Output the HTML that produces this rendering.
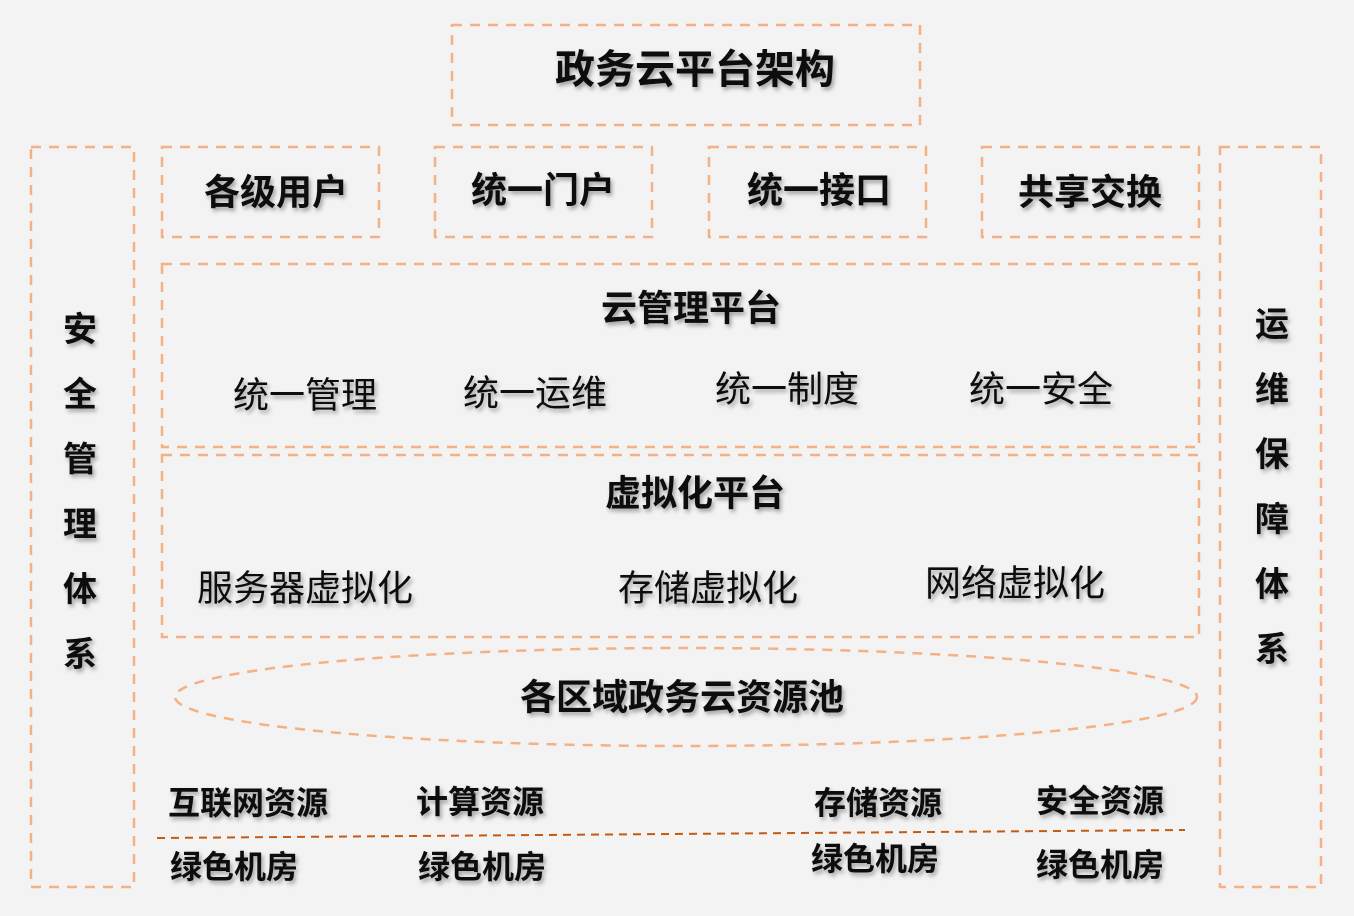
<!DOCTYPE html>
<html><head><meta charset="utf-8"><style>
html,body{margin:0;padding:0;background:#f3f3f3;}
svg{display:block;}
text{font-family:"Liberation Sans","Noto Sans CJK SC",sans-serif;fill:#111;}
.b{font-weight:bold;}
</style></head><body>
<svg width="1354" height="916" viewBox="0 0 1354 916" xmlns="http://www.w3.org/2000/svg">
<defs>
<filter id="sh" x="-10%" y="-20%" width="130%" height="150%">
<feDropShadow dx="2" dy="3" stdDeviation="2" flood-color="#000" flood-opacity="0.35"/>
</filter>
</defs>
<rect width="1354" height="916" fill="#f3f3f3"/>
<g fill="none" stroke="#f4b183" stroke-width="2.5" stroke-dasharray="10 8">
<rect x="452" y="25" width="468" height="100"/>
<rect x="31" y="147" width="103" height="740"/>
<rect x="1220" y="147" width="101" height="740"/>
<rect x="162" y="147" width="217" height="90"/>
<rect x="435" y="147" width="217" height="90"/>
<rect x="709" y="147" width="217" height="90"/>
<rect x="982" y="147" width="217" height="90"/>
<rect x="162" y="264" width="1037" height="183"/>
<rect x="162" y="455" width="1037" height="182"/>
<ellipse cx="686" cy="697" rx="511" ry="49"/>
</g>
<line x1="157" y1="838" x2="1185" y2="830" stroke="#c55a11" stroke-width="2" stroke-dasharray="8 6"/>
<g filter="url(#sh)" text-anchor="middle" dominant-baseline="central">
<text class="b" x="695" y="70" font-size="40">政务云平台架构</text>
<g class="b" font-size="34">
<text x="80" y="330">安</text><text x="80" y="395">全</text><text x="80" y="460">管</text>
<text x="80" y="525">理</text><text x="80" y="590">体</text><text x="80" y="655">系</text>
<text x="1272" y="325">运</text><text x="1272" y="390">维</text><text x="1272" y="455">保</text>
<text x="1272" y="520">障</text><text x="1272" y="585">体</text><text x="1272" y="650">系</text>
</g>
<g class="b" font-size="36">
<text x="276" y="192">各级用户</text>
<text x="543" y="190">统一门户</text>
<text x="819" y="190">统一接口</text>
<text x="1090" y="192">共享交换</text>
<text x="691" y="308">云管理平台</text>
<text x="695" y="493">虚拟化平台</text>
<text x="682" y="697">各区域政务云资源池</text>
</g>
<g font-size="36">
<text x="305" y="395">统一管理</text>
<text x="535" y="393">统一运维</text>
<text x="787" y="389">统一制度</text>
<text x="1041" y="389">统一安全</text>
<text x="305" y="588">服务器虚拟化</text>
<text x="708" y="588">存储虚拟化</text>
<text x="1015" y="583">网络虚拟化</text>
</g>
<g class="b" font-size="32">
<text x="248" y="803">互联网资源</text>
<text x="480" y="802">计算资源</text>
<text x="878" y="803">存储资源</text>
<text x="1100" y="801">安全资源</text>
<text x="234" y="867">绿色机房</text>
<text x="482" y="867">绿色机房</text>
<text x="875" y="859">绿色机房</text>
<text x="1100" y="865">绿色机房</text>
</g>
</g>
</svg>
</body></html>
